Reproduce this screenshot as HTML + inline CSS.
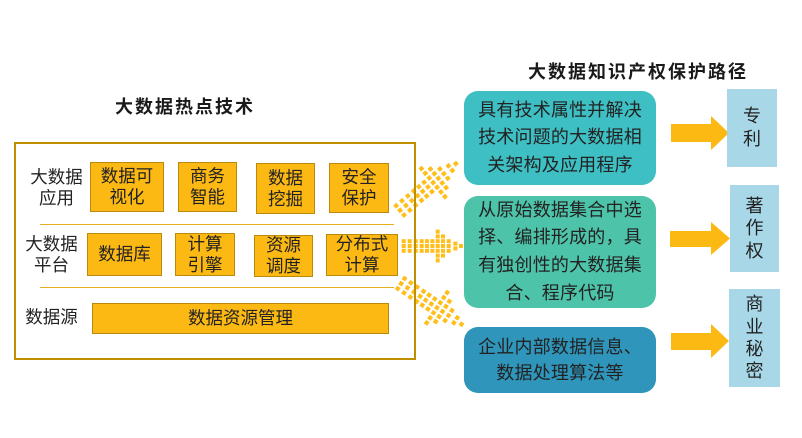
<!DOCTYPE html>
<html><head><meta charset="utf-8">
<style>
*{margin:0;padding:0;box-sizing:border-box}
body{width:802px;height:438px;background:#fff;position:relative;overflow:hidden;font-family:"Liberation Sans","Noto Sans CJK SC",sans-serif;color:#222}
.a{position:absolute}
.ob{position:absolute;background:#FDB913;border:1px solid #B98A0C;display:flex;align-items:center;justify-content:center;text-align:center;font-size:17.5px;line-height:21px;color:#222}
.lb{position:absolute;font-size:17.5px;line-height:20.5px;text-align:center;color:#222}
.title{position:absolute;font-size:18px;font-weight:bold;letter-spacing:2px;white-space:nowrap;color:#1a1a1a}
.rb{position:absolute;border-radius:14px;display:flex;align-items:center;justify-content:center;text-align:center;font-size:18px;letter-spacing:0.2px;color:#222;white-space:nowrap}
.pb{position:absolute;background:#A8D8E8;display:flex;align-items:center;justify-content:center;text-align:center;font-size:18px;color:#222}
</style></head><body>

<svg class="a" style="left:0;top:0" width="802" height="438" viewBox="0 0 802 438">
<defs>
<g id="da">
<rect x="0" y="-6.8" width="4" height="4"/><rect x="0" y="-2" width="4" height="4"/><rect x="0" y="2.8" width="4" height="4"/>
<rect x="6" y="-6.8" width="4" height="4"/><rect x="6" y="-2" width="4" height="4"/><rect x="6" y="2.8" width="4" height="4"/>
<rect x="12" y="-6.8" width="4" height="4"/><rect x="12" y="-2" width="4" height="4"/><rect x="12" y="2.8" width="4" height="4"/>
<rect x="18" y="-6.8" width="4" height="4"/><rect x="18" y="-2" width="4" height="4"/><rect x="18" y="2.8" width="4" height="4"/>
<rect x="23.3" y="-6.8" width="4" height="4"/><rect x="23.3" y="-2" width="4" height="4"/><rect x="23.3" y="2.8" width="4" height="4"/>
<rect x="28.7" y="-6.8" width="4" height="4"/><rect x="28.7" y="-2" width="4" height="4"/><rect x="28.7" y="2.8" width="4" height="4"/>
<rect x="34" y="-16.4" width="4" height="4"/><rect x="34" y="-11.6" width="4" height="4"/><rect x="34" y="-6.8" width="4" height="4"/><rect x="34" y="-2" width="4" height="4"/><rect x="34" y="2.8" width="4" height="4"/><rect x="34" y="7.6" width="4" height="4"/><rect x="34" y="12.4" width="4" height="4"/>
<rect x="39.3" y="-11.6" width="4" height="4"/><rect x="39.3" y="-6.8" width="4" height="4"/><rect x="39.3" y="-2" width="4" height="4"/><rect x="39.3" y="2.8" width="4" height="4"/><rect x="39.3" y="7.6" width="4" height="4"/>
<rect x="45" y="-6.8" width="4" height="4"/><rect x="45" y="-2" width="4" height="4"/><rect x="45" y="2.8" width="4" height="4"/>
<rect x="51.7" y="-4.4" width="4" height="4"/><rect x="51.7" y="0.4" width="4" height="4"/>
<rect x="57.3" y="-2" width="4" height="4"/>
</g>
<g id="db">
<rect x="0.54" y="-8.1" width="4.2" height="4.2"/><rect x="0.54" y="-2" width="4.2" height="4.2"/><rect x="0.54" y="4.1" width="4.2" height="4.2"/>
<rect x="8.16" y="-8.1" width="4.2" height="4.2"/><rect x="8.16" y="-2" width="4.2" height="4.2"/><rect x="8.16" y="4.1" width="4.2" height="4.2"/>
<rect x="15.78" y="-8.1" width="4.2" height="4.2"/><rect x="15.78" y="-2" width="4.2" height="4.2"/><rect x="15.78" y="4.1" width="4.2" height="4.2"/>
<rect x="23.4" y="-8.1" width="4.2" height="4.2"/><rect x="23.4" y="-2" width="4.2" height="4.2"/><rect x="23.4" y="4.1" width="4.2" height="4.2"/>
<rect x="30.13" y="-8.1" width="4.2" height="4.2"/><rect x="30.13" y="-2" width="4.2" height="4.2"/><rect x="30.13" y="4.1" width="4.2" height="4.2"/>
<rect x="36.99" y="-8.1" width="4.2" height="4.2"/><rect x="36.99" y="-2" width="4.2" height="4.2"/><rect x="36.99" y="4.1" width="4.2" height="4.2"/>
<rect x="43.72" y="-20.29" width="4.2" height="4.2"/><rect x="43.72" y="-14.19" width="4.2" height="4.2"/><rect x="43.72" y="-8.1" width="4.2" height="4.2"/><rect x="43.72" y="-2" width="4.2" height="4.2"/><rect x="43.72" y="4.1" width="4.2" height="4.2"/><rect x="43.72" y="10.19" width="4.2" height="4.2"/><rect x="43.72" y="16.29" width="4.2" height="4.2"/>
<rect x="50.45" y="-14.19" width="4.2" height="4.2"/><rect x="50.45" y="-8.1" width="4.2" height="4.2"/><rect x="50.45" y="-2" width="4.2" height="4.2"/><rect x="50.45" y="4.1" width="4.2" height="4.2"/><rect x="50.45" y="10.19" width="4.2" height="4.2"/>
<rect x="57.69" y="-8.1" width="4.2" height="4.2"/><rect x="57.69" y="-2" width="4.2" height="4.2"/><rect x="57.69" y="4.1" width="4.2" height="4.2"/>
<rect x="66.2" y="-5.05" width="4.2" height="4.2"/><rect x="66.2" y="1.05" width="4.2" height="4.2"/>
<rect x="73.31" y="-2" width="4.2" height="4.2"/>
</g>
</defs>
<use href="#da" fill="#FFBE1A" transform="translate(401.7,246)"/>
<use href="#db" fill="#FFBE1A" transform="translate(398,212) rotate(-40)"/>
<use href="#db" fill="#FFBE1A" transform="translate(399,282) rotate(34)"/>
<polygon fill="#FDB913" points="671,124 711,124 711,116 729,133 711,150 711,142 671,142"/>
<polygon fill="#FDB913" points="670,231 711,231 711,222 730,238.5 711,255 711,247 670,247"/>
<polygon fill="#FDB913" points="671,333 711,333 711,324 729,341 711,358 711,350 671,350"/>
</svg>

<div class="title" style="left:115px;top:93px">大数据热点技术</div>
<div class="title" style="left:528px;top:58px">大数据知识产权保护路径</div>

<div class="a" style="left:14px;top:142px;width:402px;height:218px;border:2px solid #BF8F00"></div>
<div class="a" style="left:40px;top:224px;width:354px;height:1px;background:#E8B020"></div>
<div class="a" style="left:40px;top:287px;width:354px;height:1px;background:#E8B020"></div>

<div class="lb" style="left:26px;top:167px;width:61px">大数据<br>应用</div>
<div class="lb" style="left:21px;top:234px;width:61px">大数据<br>平台</div>
<div class="lb" style="left:21px;top:307px;width:61px">数据源</div>

<div class="ob" style="left:90px;top:162px;width:74px;height:50px">数据可<br>视化</div>
<div class="ob" style="left:178px;top:162px;width:59px;height:50px">商务<br>智能</div>
<div class="ob" style="left:256px;top:163px;width:59px;height:51px">数据<br>挖掘</div>
<div class="ob" style="left:329px;top:163px;width:60px;height:50px">安全<br>保护</div>

<div class="ob" style="left:87px;top:233px;width:75px;height:43px">数据库</div>
<div class="ob" style="left:175px;top:233px;width:60px;height:43px">计算<br>引擎</div>
<div class="ob" style="left:254px;top:235px;width:59px;height:42px">资源<br>调度</div>
<div class="ob" style="left:326px;top:234px;width:72px;height:42px">分布式<br>计算</div>

<div class="ob" style="left:92px;top:303px;width:297px;height:31px">数据资源管理</div>

<div class="rb" style="left:464px;top:91px;width:192px;height:94px;background:#3DBFC4;line-height:27.5px">具有技术属性并解决<br>技术问题的大数据相<br>关架构及应用程序</div>
<div class="rb" style="left:464px;top:196px;width:192px;height:112px;background:#4DC3A9;line-height:27.7px">从原始数据集合中选<br>择、编排形成的，具<br>有独创性的大数据集<br>合、程序代码</div>
<div class="rb" style="left:464px;top:327px;width:192px;height:66px;background:#2F95BA;line-height:26px">企业内部数据信息、<br>数据处理算法等</div>

<div class="pb" style="left:727px;top:89px;width:50px;height:78px;line-height:23px">专<br>利</div>
<div class="pb" style="left:730px;top:185px;width:49px;height:87px;line-height:22.5px">著<br>作<br>权</div>
<div class="pb" style="left:729px;top:289px;width:51px;height:98px;line-height:22.4px">商<br>业<br>秘<br>密</div>

</body></html>
